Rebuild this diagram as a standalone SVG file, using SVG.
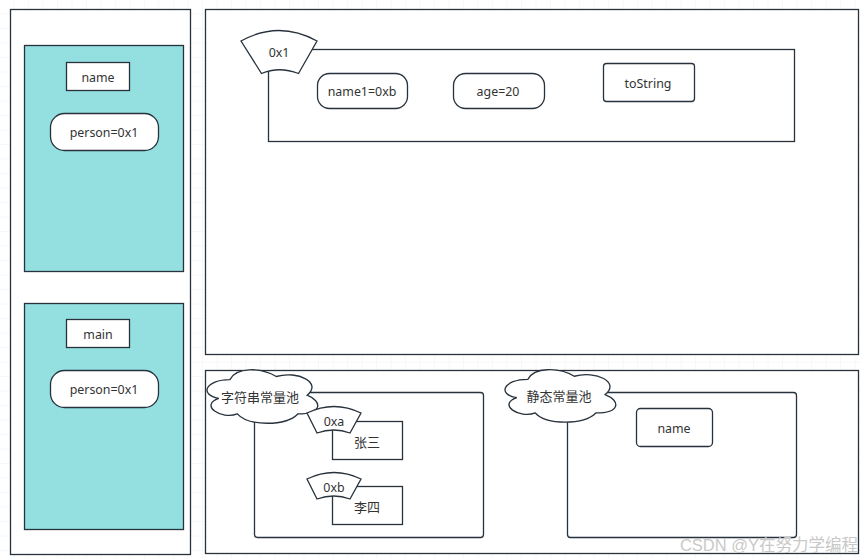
<svg xmlns="http://www.w3.org/2000/svg" width="861" height="559" viewBox="0 0 861 559">
<defs>
<pattern id="grid" x="0" y="0" width="14.5" height="14.5" patternUnits="userSpaceOnUse">
<path d="M14.5 0V14.5M0 14.5H14.5" fill="none" stroke="#f1f1f1" stroke-width="1"/>
</pattern>
<style>
.ln{fill:#fff;stroke:#27323c;stroke-width:1.3}
.teal{fill:#94dfe0;stroke:#27323c;stroke-width:1.3}
.t{font-family:"Noto Sans","Open Sans",sans-serif;font-size:12.4px;fill:#333;text-anchor:middle;dominant-baseline:central}
.c{font-family:"Noto Sans CJK SC","Noto Sans",sans-serif;font-size:13px;fill:#333;text-anchor:middle;dominant-baseline:central}
</style>
</defs>
<rect width="861" height="559" fill="#fff"/>
<rect width="861" height="559" fill="url(#grid)"/>

<g id="stack">
<rect class="ln" x="10.5" y="9.5" width="180" height="545"/>
</g>
<g id="frame-person">
<rect class="teal" x="24.5" y="45.5" width="159" height="226"/>
<rect class="ln" x="66.5" y="62.5" width="63" height="28"/>
<text class="t" x="98" y="77">name</text>
<rect class="ln" x="50.5" y="113.5" width="108" height="37" rx="14"/>
<text class="t" x="104" y="132">person=0x1</text>
</g>
<g id="frame-main">
<rect class="teal" x="24.5" y="303.5" width="159" height="226"/>
<rect class="ln" x="66.5" y="319.5" width="63" height="28"/>
<text class="t" x="98" y="334">main</text>
<rect class="ln" x="50.5" y="370.5" width="108" height="37" rx="14"/>
<text class="t" x="104" y="389">person=0x1</text>
</g>

<g id="heap">
<rect class="ln" x="205.5" y="9.5" width="653" height="345"/>
</g>
<g id="object-0x1">
<rect class="ln" x="268.5" y="49.5" width="526" height="92"/>
<path class="ln" d="M241 41Q279 20 317 41L298.5 73.5Q279 66 261.5 73.5Z"/>
<text class="t" x="279" y="52">0x1</text>
<rect class="ln" x="317.5" y="73.5" width="90" height="35" rx="12"/>
<text class="t" x="362" y="91">name1=0xb</text>
<rect class="ln" x="453.5" y="73.5" width="91" height="35" rx="12"/>
<text class="t" x="498" y="91">age=20</text>
<rect class="ln" x="603.5" y="63.5" width="91" height="38" rx="3"/>
<text class="t" x="648" y="83">toString</text>
</g>

<g id="method-area">
<rect class="ln" x="205.5" y="370.5" width="653" height="183"/>
</g>
<g id="string-pool">
<rect class="ln" x="254.5" y="392.5" width="229" height="145" rx="3"/>
<path class="ln" transform="translate(199 364) scale(1.03 1.04)" d="M30 15C6 15 0 30 19.2 33C0 39.6 21.6 54 37.2 48C48 60 84 60 96 48C120 48 120 36 105 30C120 18 96 6 75 12C60 3 36 3 30 15Z"/>
<text class="c" x="260" y="396">字符串常量池</text>
<rect class="ln" x="332.5" y="421.5" width="70" height="38"/>
<path class="ln" d="M307 413Q334 400 361 413L350 433Q334 427 317 433Z"/>
<text class="t" x="334" y="421">0xa</text>
<text class="c" x="367" y="441">张三</text>
<rect class="ln" x="332.5" y="486.5" width="70" height="38"/>
<path class="ln" d="M307 479Q334 466 361 479L350 499Q334 493 317 499Z"/>
<text class="t" x="334" y="487">0xb</text>
<text class="c" x="367" y="506">李四</text>
</g>
<g id="static-pool">
<rect class="ln" x="567.5" y="392.5" width="229" height="145" rx="3"/>
<path class="ln" transform="translate(497 364) scale(1.03 1.02)" d="M30 15C6 15 0 30 19.2 33C0 39.6 21.6 54 37.2 48C48 60 84 60 96 48C120 48 120 36 105 30C120 18 96 6 75 12C60 3 36 3 30 15Z"/>
<text class="c" x="559" y="395">静态常量池</text>
<rect class="ln" x="636.5" y="408.5" width="76" height="38" rx="4"/>
<text class="t" x="674" y="428">name</text>
</g>
<g id="connectors"></g>
<text x="858" y="551" text-anchor="end" font-family="Liberation Sans,'Noto Sans CJK SC',sans-serif" font-size="16.5" fill="#c9c9c9">CSDN @Y在努力学编程</text>
</svg>
